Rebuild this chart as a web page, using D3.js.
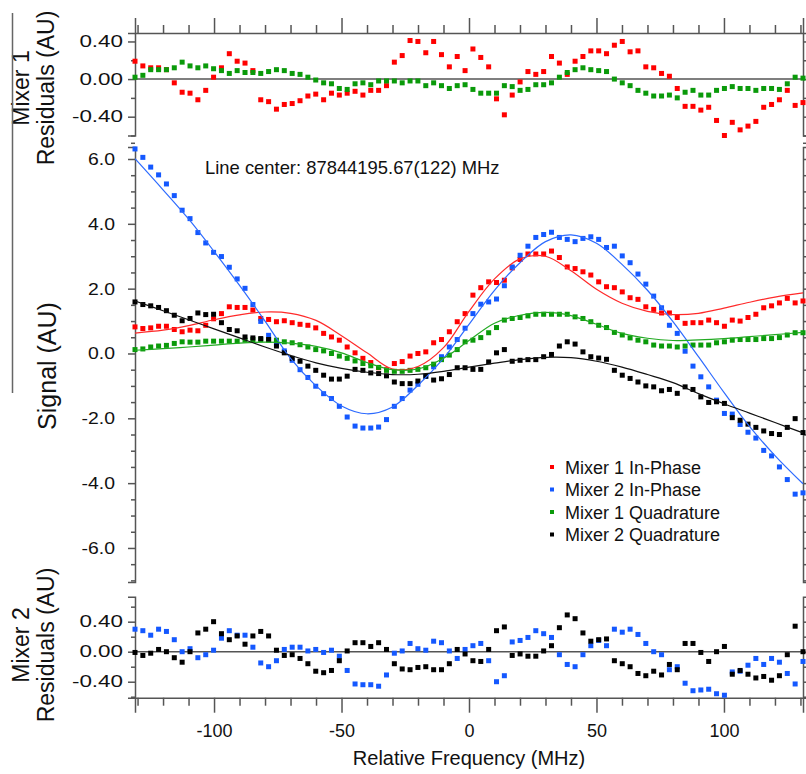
<!DOCTYPE html>
<html>
<head>
<meta charset="utf-8">
<script src="https://cdn.jsdelivr.net/npm/d3@7"></script>
<style>
  body { margin: 0; background: #fff; }
  svg text { font-family: "Liberation Sans", Arial, Helvetica, sans-serif; fill: #111; }
</style>
</head>
<body>
<div id="chart"></div>
<script>
// frequency grid (MHz) of the measured points
const freqs = [
  -131.00, -127.92, -124.84, -121.75, -118.67, -115.59, -112.51, -109.42, -106.34, -103.26,
  -100.18, -97.09, -94.01, -90.93, -87.85, -84.76, -81.68, -78.60, -75.52, -72.44,
  -69.35, -66.27, -63.19, -60.11, -57.02, -53.94, -50.86, -47.78, -44.69, -41.61,
  -38.53, -35.45, -32.36, -29.28, -26.20, -23.12, -20.04, -16.95, -13.87, -10.79,
  -7.71, -4.62, -1.54, 1.54, 4.62, 7.71, 10.79, 13.87, 16.95, 20.04,
  23.12, 26.20, 29.28, 32.36, 35.45, 38.53, 41.61, 44.69, 47.78, 50.86,
  53.94, 57.02, 60.11, 63.19, 66.27, 69.35, 72.44, 75.52, 78.60, 81.68,
  84.76, 87.85, 90.93, 94.01, 97.09, 100.18, 103.26, 106.34, 109.42, 112.51,
  115.59, 118.67, 121.75, 124.84, 127.92, 131.00
];

// signal (AU)
const mixer1InPhase = [
  0.82, 0.77, 0.79, 0.84, 0.84, 0.74, 0.67, 0.72, 0.70, 0.87,
  1.07, 1.23, 1.44, 1.42, 1.42, 1.34, 1.08, 1.05, 0.98, 1.01,
  0.95, 0.90, 0.87, 0.79, 0.62, 0.51, 0.41, 0.20, 0.02, -0.15,
  -0.28, -0.44, -0.50, -0.31, -0.25, -0.08, 0.00, 0.05, 0.33, 0.43,
  0.67, 0.98, 1.23, 1.80, 2.03, 2.21, 2.19, 2.26, 2.64, 2.90,
  3.07, 3.07, 3.07, 3.16, 2.96, 2.67, 2.62, 2.52, 2.42, 2.21,
  2.06, 2.03, 1.90, 1.72, 1.67, 1.44, 1.36, 1.25, 1.25, 1.11,
  0.93, 0.95, 0.95, 1.03, 0.95, 0.84, 1.03, 1.00, 1.11, 1.21,
  1.41, 1.47, 1.56, 1.70, 1.56, 1.62
];
const mixer2InPhase = [
  6.31, 6.05, 5.75, 5.51, 5.23, 4.87, 4.42, 4.16, 3.73, 3.41,
  3.12, 2.99, 2.66, 2.30, 2.01, 1.51, 0.99, 0.56, 0.29, 0.08,
  -0.21, -0.50, -0.74, -1.01, -1.24, -1.39, -1.63, -1.96, -2.24, -2.30,
  -2.30, -2.27, -2.04, -1.63, -1.39, -1.13, -0.95, -0.71, -0.41, -0.10,
  0.20, 0.43, 0.78, 1.23, 1.52, 1.59, 1.68, 2.09, 2.67, 3.03,
  3.31, 3.58, 3.67, 3.74, 3.58, 3.52, 3.45, 3.55, 3.60, 3.52,
  3.27, 3.31, 3.01, 2.80, 2.45, 2.14, 1.77, 1.41, 0.87, 0.62,
  0.07, -0.39, -0.72, -1.03, -1.44, -1.85, -1.87, -2.19, -2.43, -2.61,
  -2.99, -3.16, -3.50, -3.89, -4.34, -4.30
];
const mixer1Quad = [
  0.12, 0.14, 0.20, 0.23, 0.25, 0.31, 0.36, 0.35, 0.35, 0.38,
  0.38, 0.38, 0.38, 0.38, 0.41, 0.43, 0.43, 0.41, 0.41, 0.36,
  0.33, 0.27, 0.20, 0.12, 0.08, 0.00, -0.08, -0.15, -0.23, -0.31,
  -0.38, -0.43, -0.52, -0.55, -0.55, -0.52, -0.49, -0.44, -0.33, -0.19,
  -0.05, 0.12, 0.36, 0.41, 0.49, 0.64, 0.80, 1.03, 1.08, 1.11,
  1.16, 1.21, 1.21, 1.21, 1.21, 1.21, 1.13, 1.08, 0.98, 0.87,
  0.80, 0.65, 0.57, 0.48, 0.41, 0.36, 0.26, 0.23, 0.23, 0.20,
  0.23, 0.26, 0.26, 0.26, 0.33, 0.36, 0.41, 0.43, 0.43, 0.43,
  0.46, 0.46, 0.49, 0.57, 0.64, 0.64
];
const mixer2Quad = [
  1.59, 1.51, 1.47, 1.42, 1.32, 1.18, 1.01, 1.08, 1.25, 1.20,
  1.21, 0.95, 0.74, 0.70, 0.51, 0.48, 0.46, 0.43, 0.23, 0.02,
  -0.15, -0.24, -0.39, -0.52, -0.67, -0.79, -0.79, -0.70, -0.49, -0.52,
  -0.60, -0.62, -0.69, -0.88, -0.93, -0.93, -0.85, -0.70, -0.82, -0.78,
  -0.65, -0.44, -0.44, -0.49, -0.49, -0.26, 0.02, 0.12, -0.24, -0.21,
  -0.19, -0.19, -0.10, -0.03, 0.23, 0.36, 0.29, 0.05, -0.10, -0.14,
  -0.18, -0.52, -0.67, -0.77, -0.88, -1.00, -1.03, -1.15, -1.11, -1.23,
  -1.03, -1.11, -1.34, -1.51, -1.49, -1.54, -1.98, -2.06, -2.18, -2.28,
  -2.39, -2.47, -2.50, -2.28, -2.01, -2.44
];

// fit curves, sampled every 10 MHz
const fitFreqs = [-131, -120, -110, -100, -90, -80, -70, -60, -50, -40, -30, -20, -10, 0,
  10, 20, 30, 40, 50, 60, 70, 80, 90, 100, 110, 120, 131];
const fit1InPhase = [0.63, 0.72, 0.86, 1.04, 1.19, 1.28, 1.24, 1.02, 0.55, 0.02, -0.48, -0.40, 0.18, 1.30,
  2.30, 2.92, 3.00, 2.55, 1.98, 1.55, 1.30, 1.20, 1.24, 1.40, 1.58, 1.74, 1.87];
const fit2InPhase = [6.01, 5.05, 4.15, 3.15, 2.10, 1.00, -0.15, -1.00, -1.62, -1.86, -1.65, -0.98, -0.15, 0.90,
  1.95, 2.80, 3.45, 3.66, 3.40, 2.75, 1.95, 0.98, -0.10, -1.20, -2.25, -3.15, -4.02];
const fit1Quad = [0.10, 0.15, 0.20, 0.26, 0.32, 0.35, 0.32, 0.22, 0.02, -0.28, -0.50, -0.48, -0.15, 0.40,
  0.93, 1.18, 1.27, 1.17, 0.90, 0.62, 0.47, 0.40, 0.42, 0.46, 0.52, 0.58, 0.65];
const fit2Quad = [1.62, 1.32, 1.04, 0.76, 0.48, 0.20, -0.06, -0.29, -0.46, -0.58, -0.65, -0.64, -0.55, -0.42,
  -0.30, -0.19, -0.12, -0.13, -0.24, -0.42, -0.65, -0.90, -1.24, -1.55, -1.84, -2.13, -2.45];

// residuals (AU)
const resid1InPhase = [
  0.19, 0.14, 0.12, 0.12, 0.10, -0.04, -0.14, -0.15, -0.22, -0.12,
  0.02, 0.12, 0.27, 0.19, 0.17, 0.09, -0.22, -0.24, -0.32, -0.27,
  -0.26, -0.23, -0.18, -0.16, -0.22, -0.15, -0.17, -0.15, -0.13, -0.17,
  -0.12, -0.12, -0.07, 0.18, 0.25, 0.41, 0.40, 0.28, 0.40, 0.26,
  0.13, 0.24, 0.09, 0.32, 0.23, 0.13, -0.21, -0.38, -0.17, -0.03,
  0.08, 0.05, 0.08, 0.24, 0.17, 0.05, 0.19, 0.24, 0.30, 0.30,
  0.27, 0.36, 0.40, 0.29, 0.30, 0.13, 0.12, 0.06, 0.03, -0.10,
  -0.29, -0.29, -0.33, -0.30, -0.44, -0.60, -0.46, -0.54, -0.50, -0.45,
  -0.30, -0.27, -0.22, -0.12, -0.28, -0.25
];
const resid1Quad = [
  0.02, 0.04, 0.10, 0.10, 0.10, 0.12, 0.18, 0.14, 0.12, 0.14,
  0.11, 0.09, 0.06, 0.09, 0.07, 0.07, 0.06, 0.08, 0.10, 0.09,
  0.06, 0.05, 0.02, -0.01, -0.04, -0.05, -0.10, -0.11, -0.05, -0.04,
  -0.06, -0.02, -0.02, -0.02, -0.04, -0.02, -0.02, -0.07, -0.04, -0.07,
  -0.10, -0.07, -0.06, -0.11, -0.15, -0.15, -0.15, -0.07, -0.08, -0.12,
  -0.11, -0.06, -0.06, -0.04, 0.02, 0.07, 0.10, 0.12, 0.10, 0.09,
  0.08, 0.00, -0.04, -0.07, -0.12, -0.15, -0.18, -0.18, -0.17, -0.20,
  -0.14, -0.12, -0.17, -0.17, -0.12, -0.10, -0.08, -0.10, -0.10, -0.12,
  -0.10, -0.10, -0.11, -0.05, 0.02, 0.01
];
const resid2InPhase = [
  0.30, 0.28, 0.22, 0.30, 0.27, 0.16, 0.00, 0.04, -0.08, -0.04,
  0.02, 0.18, 0.28, 0.22, 0.22, 0.06, -0.15, -0.20, -0.12, 0.03,
  0.06, 0.06, 0.01, 0.03, -0.01, 0.02, -0.06, -0.25, -0.43, -0.44,
  -0.44, -0.46, -0.31, -0.02, 0.01, 0.11, 0.04, 0.02, 0.14, 0.12,
  0.01, -0.09, 0.03, 0.08, 0.11, -0.12, -0.40, -0.32, 0.13, 0.15,
  0.19, 0.28, 0.24, 0.19, -0.04, -0.17, -0.20, -0.04, 0.08, 0.15,
  0.08, 0.30, 0.26, 0.30, 0.23, 0.11, 0.00, -0.04, -0.24, -0.20,
  -0.42, -0.52, -0.51, -0.50, -0.56, -0.58, -0.27, -0.26, -0.18, -0.09,
  -0.17, -0.09, -0.14, -0.29, -0.43, -0.13
];
const resid2Quad = [
  -0.01, -0.05, -0.02, 0.03, 0.00, -0.08, -0.14, 0.00, 0.25, 0.30,
  0.40, 0.24, 0.16, 0.21, 0.10, 0.21, 0.27, 0.21, 0.02, -0.05,
  -0.04, -0.09, -0.16, -0.26, -0.28, -0.25, -0.12, 0.01, 0.12, 0.12,
  0.07, 0.12, 0.03, -0.16, -0.23, -0.24, -0.21, -0.20, -0.24, -0.24,
  -0.16, 0.03, -0.03, -0.12, -0.13, 0.03, 0.28, 0.33, -0.05, -0.03,
  -0.06, -0.06, 0.01, 0.08, 0.32, 0.49, 0.44, 0.25, 0.14, 0.16,
  0.17, -0.12, -0.16, -0.20, -0.29, -0.32, -0.26, -0.31, -0.17, -0.24,
  0.11, 0.11, -0.01, -0.13, 0.00, 0.07, -0.30, -0.25, -0.30, -0.35,
  -0.33, -0.38, -0.32, -0.04, 0.34, 0.00
];

const legendLabels = ["Mixer 1 In-Phase", "Mixer 2 In-Phase", "Mixer 1 Quadrature", "Mixer 2 Quadrature"];
const xMajorTicks = [-100, -50, 0, 50, 100];
const xMinorTicks = [-130, -120, -110, -90, -80, -70, -60, -40, -30, -20, -10, 10, 20, 30, 40, 60, 70, 80, 90, 110, 120, 130];
const signalTicks = [-6, -4, -2, 0, 2, 4, 6];
const signalMinorTicks = [-7, -6.5, -5.5, -5, -4.5, -3.5, -3, -2.5, -1.5, -1, -0.5, 0.5, 1, 1.5, 2.5, 3, 3.5, 4.5, 5, 5.5, 6.5];
const residTicks = [-0.4, 0, 0.4];
const residMinorTicks = [-0.6, -0.2, 0.2, 0.6];
const lineCenterText = "Line center: 87844195.67(122) MHz";

const colors = { red: "#ff0000", blue: "#1458ff", green: "#0a9a0a", black: "#000000" };
const lineColors = { red: "#ff2a2a", blue: "#2d6bff", green: "#22aa22", black: "#111111" };
const axisColor = "#555";

const W = 806, H = 774;
const left = 135, right = 803;

const svg = d3.select("#chart").append("svg")
  .attr("width", W)
  .attr("height", H);

const x = d3.scaleLinear().domain([-131, 131]).range([left, right]);
const yTop = d3.scaleLinear().domain([-0.6, 0.49]).range([135.5, 33]);
const yMain = d3.scaleLinear().domain([-7.05, 6.37]).range([582, 147]);
const yBot = d3.scaleLinear().domain([-0.613, 0.733]).range([697.7, 596.7]);

const fmt2 = d => d.toFixed(2);
const fmt1 = d => d.toFixed(1);

function styleAxis(g) {
  g.attr("color", axisColor);
  g.selectAll("path, line").attr("stroke-width", 1.5);
  g.selectAll("text").attr("fill", "#111");
}

// the y tick numbers of the original are drawn wider than they are tall
function widen(sel, factor) {
  sel.each(function () {
    const w = this.getComputedTextLength();
    d3.select(this).attr("textLength", w * factor).attr("lengthAdjust", "spacingAndGlyphs");
  });
}

function yAxes(scale, major, minor, fmt, pad, fontSize, stretch) {
  // left: labelled major ticks + minor ticks
  const gl = svg.append("g").attr("transform", `translate(${left},0)`);
  gl.call(d3.axisLeft(scale).tickValues(major).tickSize(7).tickPadding(pad).tickFormat(fmt));
  gl.append("g").call(d3.axisLeft(scale).tickValues(minor).tickSize(4).tickFormat(""))
    .select(".domain").remove();
  gl.selectAll("text").style("font-size", fontSize + "px");
  styleAxis(gl);
  widen(gl.selectAll("text"), stretch);
  // right: ticks only
  const gr = svg.append("g").attr("transform", `translate(${right},0)`);
  gr.call(d3.axisRight(scale).tickValues(major).tickSize(7).tickFormat(""));
  gr.append("g").call(d3.axisRight(scale).tickValues(minor).tickSize(4).tickFormat(""))
    .select(".domain").remove();
  styleAxis(gr);
}

yAxes(yTop, residTicks, residMinorTicks.filter(d => d < 0.49), fmt2, 5, 16, 1.4);
yAxes(yMain, signalTicks, signalMinorTicks, fmt1, 13, 17, 1.14);
yAxes(yBot, residTicks, residMinorTicks, fmt2, 5, 16, 1.4);

// top frequency axis (ticks only)
const gt = svg.append("g").attr("transform", "translate(0,33)");
gt.call(d3.axisTop(x).tickValues(xMajorTicks).tickSize(15).tickFormat(""));
gt.append("g").call(d3.axisTop(x).tickValues(xMinorTicks).tickSize(8).tickFormat(""))
  .select(".domain").remove();
styleAxis(gt);

// bottom frequency axis
const gb = svg.append("g").attr("transform", "translate(0,697.7)");
gb.call(d3.axisBottom(x).tickValues(xMajorTicks).tickSize(15).tickPadding(12).tickFormat(d => String(d)));
gb.append("g").call(d3.axisBottom(x).tickValues(xMinorTicks).tickSize(8).tickFormat(""))
  .select(".domain").remove();
gb.selectAll("text").style("font-size", "18px");
styleAxis(gb);

// zero lines in residual panels
[yTop, yBot].forEach(s => {
  svg.append("line")
    .attr("x1", left).attr("x2", right)
    .attr("y1", s(0)).attr("y2", s(0))
    .attr("stroke", axisColor).attr("stroke-width", 1.5);
});

const sq = 5;
function drawPoints(yScale, values, color) {
  svg.append("g").selectAll("rect")
    .data(values)
    .join("rect")
    .attr("x", (d, i) => x(freqs[i]) - sq / 2)
    .attr("y", d => yScale(d) - sq / 2)
    .attr("width", sq)
    .attr("height", sq)
    .attr("fill", color);
}

function drawFit(values, color) {
  const line = d3.line()
    .x((d, i) => x(fitFreqs[i]))
    .y(d => yMain(d))
    .curve(d3.curveCatmullRom);
  svg.append("path")
    .attr("d", line(values))
    .attr("fill", "none")
    .attr("stroke", color)
    .attr("stroke-width", 1.2);
}

// residual panels
drawPoints(yTop, resid1InPhase, colors.red);
drawPoints(yTop, resid1Quad, colors.green);
drawPoints(yBot, resid2InPhase, colors.blue);
drawPoints(yBot, resid2Quad, colors.black);

// main panel
drawPoints(yMain, mixer1InPhase, colors.red);
drawPoints(yMain, mixer2InPhase, colors.blue);
drawPoints(yMain, mixer1Quad, colors.green);
drawPoints(yMain, mixer2Quad, colors.black);
drawFit(fit1InPhase, lineColors.red);
drawFit(fit2InPhase, lineColors.blue);
drawFit(fit1Quad, lineColors.green);
drawFit(fit2Quad, lineColors.black);

// annotation
svg.append("text")
  .attr("x", 205).attr("y", 173.5)
  .style("font-size", "18.4px")
  .text(lineCenterText);

// legend
const legendColors = [colors.red, colors.blue, colors.green, colors.black];
const lg = svg.append("g").attr("transform", "translate(552,467)");
legendLabels.forEach((label, i) => {
  lg.append("rect")
    .attr("x", -2).attr("y", i * 22.5 - 2)
    .attr("width", 4).attr("height", 4)
    .attr("fill", legendColors[i]);
  lg.append("text")
    .attr("x", 13).attr("y", i * 22.5 + 6.5)
    .style("font-size", "18px")
    .text(label);
});

// axis titles
svg.append("text")
  .attr("transform", `translate(${x(0)},765)`)
  .attr("text-anchor", "middle")
  .style("font-size", "20px")
  .text("Relative Frequency (MHz)");

svg.append("text")
  .attr("transform", "translate(56,366) rotate(-90)")
  .attr("text-anchor", "middle")
  .style("font-size", "25px")
  .text("Signal (AU)");

function residTitle(cy, n) {
  svg.append("text")
    .attr("transform", `translate(29,${cy}) rotate(-90)`)
    .attr("text-anchor", "middle")
    .style("font-size", "23px")
    .text("Mixer " + n);
  svg.append("text")
    .attr("transform", `translate(54,${cy}) rotate(-90)`)
    .attr("text-anchor", "middle")
    .style("font-size", "23px")
    .text("Residuals (AU)");
}
residTitle(88, 1);
residTitle(645, 2);

// left bracket line next to the upper titles
svg.append("line")
  .attr("x1", 12.5).attr("x2", 12.5)
  .attr("y1", 13).attr("y2", 393)
  .attr("stroke", "#666").attr("stroke-width", 1.5);
</script>
</body>
</html>
